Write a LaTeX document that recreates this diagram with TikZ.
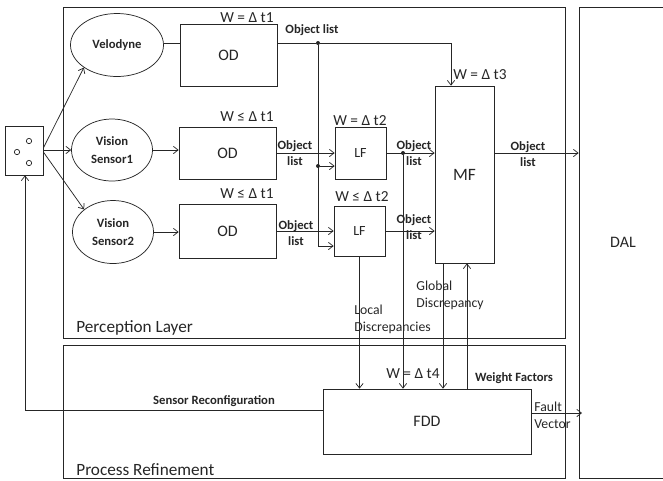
\documentclass[tikz,border=0pt]{standalone}
\usepackage{fontspec}
\setmainfont{Carlito}
\usetikzlibrary{shapes.geometric, arrows.meta}

\tikzset{
    block/.style={draw, rectangle, inner sep=0pt},
    sensor/.style={draw, ellipse, inner sep=0pt, align=center, font=\fontsize{9.5}{13}\selectfont\bfseries},
    window/.style={font=\fontsize{11.5}{13}\selectfont, inner sep=0pt},
    tag/.style={font=\fontsize{9.5}{12}\selectfont\bfseries, inner sep=0pt, align=center},
    note/.style={font=\fontsize{10.3}{12.5}\selectfont, inner sep=0pt, align=left, anchor=west},
    caption/.style={font=\fontsize{12}{14}\selectfont, inner sep=0pt},
    layername/.style={font=\fontsize{12.9}{14}\selectfont, inner sep=0pt, anchor=west},
    dot/.style={circle, fill, inner sep=0pt, minimum size=3pt},
    lens/.style={draw, circle, inner sep=0pt, minimum size=4pt},
}

\begin{document}
\begin{tikzpicture}[x=0.75pt, y=-0.75pt, line width=0.55pt, color=black!85, >={Straight Barb[length=3.5pt,width=5.5pt]}]
    \useasboundingbox (0,0) rectangle (663,480);

    % Layers
    \node[block, minimum width=376.5pt, minimum height=248.25pt] (Perception) at (314,172.5) {};
    \node[block, minimum width=376.5pt, minimum height=99.75pt] (Process) at (314,411.5) {};
    \node[block, minimum width=66pt, minimum height=353.25pt, caption] (DAL) at (623,242.5) {DAL};
    \node[layername] (PerceptionName) at (76,328) {Perception Layer};
    \node[layername] (ProcessName) at (76,470) {Process Refinement};

    % Sensor head
    \node[block, minimum width=28.5pt, minimum height=36.75pt] (Head) at (24,150.5) {};
    \node[lens] (LensA) at (29,141) {};
    \node[lens] (LensB) at (17,152) {};
    \node[lens] (LensC) at (29,163) {};

    % Sensors
    \node[sensor, minimum width=69.75pt, minimum height=47.25pt] (Velodyne) at (117,45) {Velodyne};
    \node[sensor, minimum width=60.75pt, minimum height=46.5pt] (VisionA) at (112,150) {Vision\\Sensor1};
    \node[sensor, minimum width=60.75pt, minimum height=47.25pt] (VisionB) at (113,232) {Vision\\Sensor2};

    % Detection and fusion blocks
    \node[block, minimum width=72.75pt, minimum height=46.5pt, caption] (ODA) at (228.5,55) {OD};
    \node[block, minimum width=72.75pt, minimum height=39pt, caption] (ODB) at (227.5,153) {OD};
    \node[block, minimum width=72.75pt, minimum height=40.5pt, caption] (ODC) at (227.5,231) {OD};
    \node[block, minimum width=38.25pt, minimum height=39pt, caption, font=\fontsize{10.5}{13}\selectfont] (LFA) at (360.5,153) {LF};
    \node[block, minimum width=38.25pt, minimum height=37.5pt, caption, font=\fontsize{10.5}{13}\selectfont] (LFB) at (359.5,231) {LF};
    \node[block, minimum width=44.25pt, minimum height=132.75pt, caption, font=\fontsize{13}{14}\selectfont] (MF) at (464.5,174.5) {MF};
    \node[block, minimum width=156pt, minimum height=48.75pt, caption] (FDD) at (427,421.5) {FDD};

    % Junctions
    \node[dot] (JunctionA) at (318,43) {};
    \node[dot] (JunctionB) at (318,166) {};
    \node[dot] (JunctionC) at (403,153) {};
    \coordinate (BendA) at (451,43);
    \coordinate (BendB) at (318,246);
    \coordinate (BendC) at (25,410);

    % Sensor head to sensors
    \draw[->] (Head.east |- 0,148) -- (Velodyne.south west);
    \draw[->] (Head.east |- 0,150) -- (VisionA.west);
    \draw[->] (Head.east |- 0,152) -- (VisionB.north west);

    % Sensors to detection
    \draw (Velodyne.east |- JunctionA) -- (ODA.west |- JunctionA);
    \draw[->] (VisionA.east) -- (ODB.west |- VisionA);
    \draw[->] (VisionB.east) -- (ODC.west |- VisionB);

    % Detection to fusion
    \draw (ODA.east |- JunctionA) -- (JunctionA);
    \draw[->] (JunctionA) -- (BendA) -- (BendA |- MF.north);
    \draw (JunctionA) -- (BendB);
    \draw[->] (BendB) -- (LFB.west |- BendB);
    \draw[->] (JunctionB) -- (LFA.west |- JunctionB);
    \draw[->] (ODB.east) -- (LFA.west);
    \draw[->] (ODC.east) -- (LFB.west);
    \draw[->] (LFA.east) -- (MF.west |- LFA);
    \draw[->] (LFB.east) -- (MF.west |- LFB);
    \draw[->] (MF.east |- LFA) -- (DAL.west |- LFA);

    % Discrepancies and weights
    \draw[->] (LFB.south) -- (LFB.south |- FDD.north);
    \draw[->] (JunctionC) -- (JunctionC |- FDD.north);
    \draw[->] (443,0 |- MF.south) -- (443,0 |- FDD.north);
    \draw[->] (467,0 |- FDD.north) -- (467,0 |- MF.south);

    % Feedback and fault output
    \draw[->] (FDD.west |- BendC) -- (BendC) -- (BendC |- Head.south);
    \draw[->] (FDD.east |- 0,413) -- (582,413);

    % Windows
    \node[window] (WinA) at (247,18) {W = Δ t1};
    \node[window] (WinB) at (247,117) {W ≤ Δ t1};
    \node[window] (WinC) at (247,194) {W ≤ Δ t1};
    \node[window] (WinD) at (360,121) {W = Δ t2};
    \node[window] (WinE) at (362,197) {W ≤ Δ t2};
    \node[window] (WinF) at (480,75) {W = Δ t3};
    \node[window] (WinG) at (413,374) {W = Δ t4};

    % Signal labels
    \node[tag] (ListA) at (312,30) {Object list};
    \node[tag] (ListB) at (295,153) {Object\\list};
    \node[tag] (ListC) at (296,233) {Object\\list};
    \node[tag] (ListD) at (414,153) {Object\\list};
    \node[tag] (ListE) at (414,227) {Object\\list};
    \node[tag] (ListF) at (528,154) {Object\\list};
    \node[note] (Local) at (354,319) {Local\\Discrepancies};
    \node[note] (Global) at (416,295.5) {Global\\Discrepancy};
    \node[tag] (Weight) at (514,378) {Weight Factors};
    \node[tag] (Reconfig) at (214,401) {Sensor Reconfiguration};
    \node[note] (Fault) at (534,415) {Fault\\Vector};
\end{tikzpicture}
\end{document}
